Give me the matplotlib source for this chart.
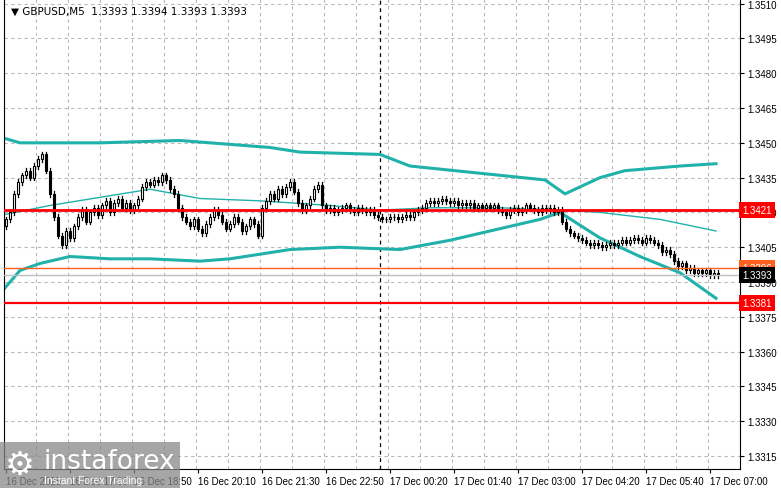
import matplotlib
matplotlib.use("Agg")
import matplotlib.pyplot as plt
import numpy as np
from matplotlib.patches import Rectangle

plt.rcParams['font.family'] = ['Liberation Sans', 'DejaVu Sans']

closes = [1.3417,1.3420,1.3428,1.3433,
1.3436,1.3438,1.3435,1.3440,1.3443,1.3445,1.3438,
1.3428,1.3418,1.3410,1.3406,1.3412,1.3409,
1.3414,1.3418,1.3421,1.3416,1.3420,1.3422,1.3419,
1.3423,1.3425,1.3420,1.3424,1.3426,1.3422,1.3424,1.3421,1.3423,
1.3426,1.3431,1.3433,1.3432,1.3434,1.3433,1.3436,1.3434,1.3430,1.3428,
1.3422,1.3418,1.3416,1.3414,1.3417,1.3413,1.3411,1.3415,1.3418,1.3421,
1.3419,1.3416,1.3413,1.3415,1.3418,1.3416,1.3412,1.3414,1.3417,1.3415,
1.3410,1.3422,1.3425,1.3428,1.3426,1.3430,1.3428,1.3431,1.3433,1.3429,
1.3424,1.3421,1.3423,1.3426,1.3430,1.3432,
1.3423,1.3421,1.3422,1.3420,1.3421,1.3422,1.3423,1.3421,1.3420,1.3422,1.3421,1.3420,1.3421,1.3419,1.3418,
1.3417,1.3417,1.3418,1.3418,1.3417,1.3418,1.3419,1.3418,1.3420,1.3421,
1.3422,1.3424,1.3425,1.3424,1.3425,1.3426,1.3425,1.3424,1.3425,1.3423,1.3424,1.3423,1.3424,1.3422,1.3423,1.3422,1.3423,1.3422,1.3423,1.3421,
1.3420,1.3419,1.3421,1.3422,1.3420,1.3421,1.3423,1.3422,1.3421,1.3420,1.3422,1.3421,1.3422,1.3420,1.3421,
1.3416,1.3413,1.3411,1.3410,1.3409,1.3408,1.3407,
1.3406,1.3407,1.3406,1.3405,1.3406,1.3407,1.3406,1.3407,1.3408,1.3407,1.3408,1.3409,1.3408,1.3407,1.3409,1.3408,1.3407,1.3406,
1.3403,1.3404,1.3402,1.3399,1.3397,1.3398,1.3395,
1.3396,1.3394,1.3395,1.3394,1.3395,1.3393,1.3394,1.3393]
first_open = 1.3414
wick = 0.00012

upper_x = [-0.5,3.5,23.5,43.5,66,73.5,93.5,101,123.5,134.75,139.75,148.5,154.75,168.5,177.5]
upper_y = [1.3452,1.3450,1.3450,1.3451,1.3448,1.3446,1.3445,1.3440,1.3436,1.3434,1.3428,1.3435,1.3438,1.3440,1.3441]
mid_x = [-0.5,11,36,48.5,63.5,81,93.5,106,123.5,138.5,148.5,163.5,177.5]
mid_y = [1.3419,1.3423,1.3430,1.3426,1.3425,1.3423,1.3421,1.3422,1.3422,1.3421,1.3420,1.3417,1.3412]
low_x = [-0.5,3.5,8.5,16,26,36,48.5,56,71,83.5,98.5,111,123.5,133.5,138.5,148.5,158.5,168.5,177.5]
low_y = [1.3387,1.3395,1.3398,1.3401,1.3400,1.3400,1.3399,1.3400,1.3404,1.3405,1.3404,1.3408,1.3413,1.3417,1.3420,1.3409,1.3401,1.3394,1.3383]

yticks = [1.3315,1.3330,1.3345,1.3360,1.3375,1.3390,1.3405,1.3420,1.3435,1.3450,1.3465,1.3480,1.3495,1.3510]
date_labels = ["16 Dec 2025","16 Dec 17:30","16 Dec 18:50","16 Dec 20:10","16 Dec 21:30","16 Dec 22:50",
               "17 Dec 00:20","17 Dec 01:40","17 Dec 03:00","17 Dec 04:20","17 Dec 05:40","17 Dec 07:00"]
levels = [(1.3421,"#ff0000",2.0,"white"),(1.3381,"#ff0000",1.6,"white"),(1.3396,"#ff6020",1.0,"white")]
bid = 1.3393

fig = plt.figure(figsize=(7.81,4.89), dpi=100)
ax = fig.add_axes([4/781, 19/489, 736/781, 470/489])
ax.set_xlim(-0.5, 183.5)
ax.set_ylim(1.33094, 1.3512)

for y in yticks:
    ax.axhline(y, color="#b8b8b8", lw=0.8, ls=(0,(3,3)), zorder=0)
for x in range(0, 184, 8):
    ax.axvline(x-0.5, color="#b8b8b8", lw=0.8, ls=(0,(3,3)), zorder=0)
ax.axvline(93.5, color="black", lw=0.9, ls=(0,(3,3)), zorder=1)

ax.plot(upper_x, upper_y, color="#20b2aa", lw=2.2, zorder=2)
ax.plot(mid_x, mid_y, color="#20b2aa", lw=1.0, zorder=2)
ax.plot(low_x, low_y, color="#20b2aa", lw=2.2, zorder=2)

opens = [first_open] + closes[:-1]
for i, (o, c) in enumerate(zip(opens, closes)):
    hi = max(o, c) + wick
    lo = min(o, c) - wick
    ax.plot([i, i], [lo, hi], color="black", lw=0.9, zorder=3)
    b = min(o, c); h = max(abs(c - o), 0.00002)
    ax.add_patch(Rectangle((i-0.35, b), 0.7, h, facecolor="white" if c >= o else "black",
                           edgecolor="black", lw=0.8, zorder=4))

for y, col, lw, tc in levels:
    ax.axhline(y, color=col, lw=lw, zorder=5)
ax.axhline(bid, color="#c0c0c0", lw=1.0, zorder=5)

ax.yaxis.tick_right()
ax.set_yticks(yticks)
ax.set_yticklabels([f"{v:.4f}" for v in yticks], fontsize=7)
ax.tick_params(axis="y", length=3, pad=2)
ax.set_xticks([i*16 for i in range(12)])
ax.set_xticklabels(date_labels, fontsize=7, ha="left")
ax.tick_params(axis="x", length=3, pad=2)
ax.spines["top"].set_visible(False)

for y, col, lw, tc in levels + [(bid, "black", 1, "white")]:
    ax.text(1.003, y, f"{y:.4f}", transform=ax.get_yaxis_transform(), fontsize=7, color=tc,
            va="center", ha="left", zorder=10,
            bbox=dict(boxstyle="square,pad=0.3", facecolor=col, edgecolor="none"))

ax.text(0.01, 0.985, "\u25bc GBPUSD,M5  1.3393 1.3394 1.3393 1.3393", transform=ax.transAxes,
        fontsize=7.5, va="top", ha="left", family=['DejaVu Sans'])

fig.patches.append(Rectangle((0, 0), 180/781, 46/489, transform=fig.transFigure,
                             facecolor="#888888", alpha=0.75, zorder=20))
fig.text(44/781, 27/489, "instaforex", fontsize=19, color="white", va="center", ha="left", zorder=21,
         family=['DejaVu Sans'])
fig.text(44/781, 8/489, "Instant Forex Trading", fontsize=7.5, color="white", va="center", ha="left", zorder=21)
fig.text(20/781, 24/489, "\u2699", fontsize=24, color="white", va="center", ha="center", zorder=21,
         family=['DejaVu Sans'])

fig.savefig("out.png", dpi=100)
